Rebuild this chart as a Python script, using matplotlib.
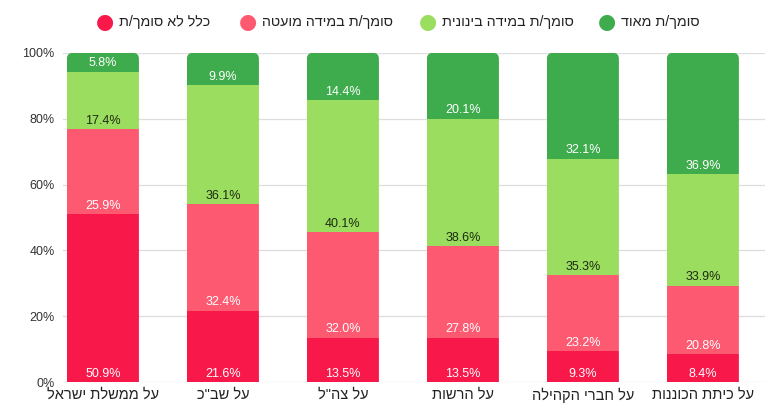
import matplotlib
matplotlib.use("Agg")
import matplotlib.pyplot as plt
import matplotlib.ticker as ticker
from matplotlib.patches import FancyBboxPatch
import numpy as np

plt.rcParams["font.family"] = ["Liberation Sans", "DejaVu Sans"]

# ── data ──────────────────────────────────────────────
categories = ["על ממשלת ישראל", 'על שב"כ', 'על צה"ל', "על הרשות",
              "על חברי הקהילה", "על כיתת הכוננות"]
series_names = ["כלל לא סומך/ת", "סומך/ת במידה מועטה",
                "סומך/ת במידה בינונית", "סומך/ת מאוד"]
not_at_all = [50.9, 21.6, 13.5, 13.5, 9.3, 8.4]
low        = [25.9, 32.4, 32.0, 27.8, 23.2, 20.8]
medium     = [17.4, 36.1, 40.1, 38.6, 35.3, 33.9]
high       = [5.8, 9.9, 14.4, 20.1, 32.1, 36.9]
series = [not_at_all, low, medium, high]

colors      = ["#F8184A", "#FD5A72", "#9BDD5E", "#3EAB4C"]
text_colors = ["white", "white", "#1d2b12", "white"]


def rtl(s):
    # matplotlib has no bidi support: reverse Hebrew for display
    return s[::-1]


fig = plt.figure(figsize=(7.68, 4.19), dpi=100)
ax = fig.add_axes([0.082, 0.088, 0.914, 0.786])

x = np.arange(len(categories))
width = 0.6
bottom = np.zeros(len(categories))

# rounded top corners via clip paths
clips = []
for xi in x:
    clip = FancyBboxPatch((xi - width / 2, -10), width, 110,
                          boxstyle="round,pad=0,rounding_size=0.05",
                          mutation_aspect=36, transform=ax.transData)
    clips.append(clip)

for vals, col, tcol in zip(series, colors, text_colors):
    bars = ax.bar(x, vals, width, bottom=bottom, color=col, zorder=3,
                  linewidth=0)
    for b, clip in zip(bars, clips):
        b.set_clip_path(clip)
    for xi, v, b0 in zip(x, vals, bottom):
        ax.text(xi, b0 + 2.6, f"{v:.1f}%", ha="center", va="center",
                fontsize=9, color=tcol, zorder=4)
    bottom += np.array(vals)

ax.set_xlim(-0.333, 5.517)
ax.set_ylim(0, 100)
ax.yaxis.set_major_locator(ticker.MultipleLocator(20))
ax.yaxis.set_major_formatter(ticker.FuncFormatter(lambda v, p: f"{v:.0f}%"))
ax.set_xticks(x)
ax.set_xticklabels([rtl(c) for c in categories], fontsize=10.5, color="#222222")
ax.tick_params(axis="both", length=0)
ax.tick_params(axis="y", labelsize=9, colors="#333333", pad=6)
ax.tick_params(axis="x", pad=4)
for s in ax.spines.values():
    s.set_visible(False)
ax.grid(axis="y", color="#dddddd", linewidth=0.9, zorder=0)
ax.set_axisbelow(True)

# legend (drawn manually, circle left of text)
leg_x = [105, 248, 428, 607]
leg_y = 1 - 22 / 419
for lx, name, col in zip(leg_x, series_names, colors):
    fig.text(lx / 768, leg_y, "●", color=col, fontsize=15,
             ha="center", va="center", family="DejaVu Sans")
    fig.text((lx + 14) / 768, leg_y, rtl(name), color="#222222",
             fontsize=10.3, ha="left", va="center")

fig.savefig("out.png", dpi=100)
